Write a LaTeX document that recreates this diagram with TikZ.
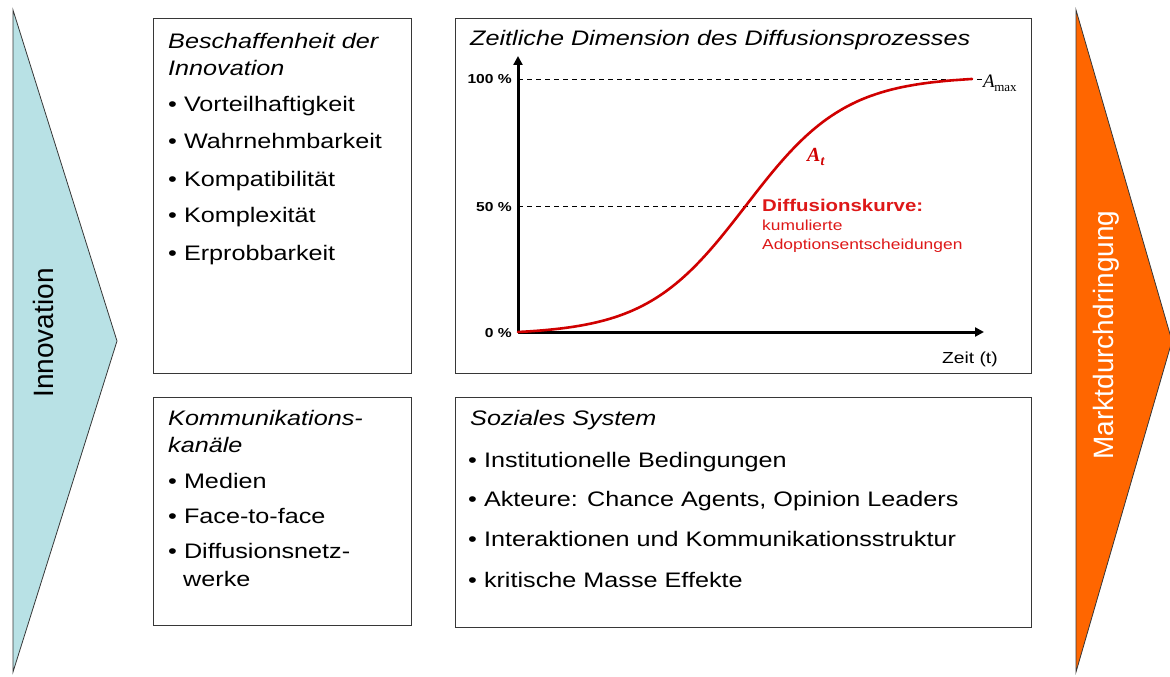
\documentclass[tikz,border=0pt]{standalone}
\usepackage{fontspec}
\setmainfont[FakeStretch=1.2]{Liberation Sans}
\newfontfamily\plainsans{Liberation Sans}
\newfontfamily\serifface{Liberation Serif}
\usetikzlibrary{arrows.meta}

\definecolor{innoblue}{RGB}{184,225,229}
\definecolor{marktorange}{RGB}{255,102,0}
\definecolor{curvered}{RGB}{208,0,0}
\definecolor{labelred}{RGB}{222,24,24}
\definecolor{frame}{RGB}{55,55,55}

\begin{document}
\begin{tikzpicture}[x=1pt,y=-1pt,
  panel/.style={draw=frame,line width=1.2pt,fill=white,inner sep=0pt},
  body/.style={anchor=base west,inner sep=0pt,font=\fontsize{21}{25}\selectfont},
  head/.style={anchor=base west,inner sep=0pt,font=\fontsize{21}{25}\selectfont\itshape},
  pct/.style={anchor=base east,inner sep=0pt,font=\fontsize{13}{14}\selectfont\bfseries},
  axis/.style={line width=3pt,-{Triangle[length=9pt,width=9pt]}},
  guide/.style={line width=0.8pt,dash pattern=on 5pt off 4pt},
  sidetext/.style={rotate=90,inner sep=0pt,font=\plainsans\fontsize{28}{30}\selectfont}
]
\useasboundingbox (0,0) rectangle (1170,677);

% side arrows
\draw[fill=innoblue,draw=frame,line width=0.8pt] (13,10) -- (117,341) -- (13,672) -- cycle;
\node[sidetext] (inno) at (43,333) {Innovation};
\draw[fill=marktorange,draw=frame,line width=0.8pt] (1076,10) -- (1172,341) -- (1076,672) -- cycle;
\node[sidetext,text=white] (markt) at (1106,335) {Marktdurchdringung};

% panels
\node[panel,anchor=north west,minimum width=258pt,minimum height=355pt] (p1) at (153,18) {};
\node[panel,anchor=north west,minimum width=576pt,minimum height=355pt] (p2) at (455,18) {};
\node[panel,anchor=north west,minimum width=258pt,minimum height=228pt] (p3) at (153,397) {};
\node[panel,anchor=north west,minimum width=576pt,minimum height=230pt] (p4) at (455,397) {};

% properties of the innovation
\node[head] (h1a) at (168,48.5) {Beschaffenheit der};
\node[head] (h1b) at (168,75.5) {Innovation};
\node[body] (b11) at (168,111.5) {•\ Vorteilhaftigkeit};
\node[body] (b12) at (168,148.5) {•\ Wahrnehmbarkeit};
\node[body] (b13) at (168,186.5) {•\ Kompatibilität};
\node[body] (b14) at (168,222.5) {•\ Komplexität};
\node[body] (b15) at (168,260.5) {•\ Erprobbarkeit};

% communication channels
\node[head] (h3a) at (168,425.5) {Kommunikations-};
\node[head] (h3b) at (168,452.5) {kanäle};
\node[body] (b31) at (168,488.5) {•\ Medien};
\node[body] (b32) at (168,523.5) {•\ Face-to-face};
\node[body] (b33) at (168,558.5) {•\ Diffusionsnetz-};
\node[body] (b34) at (183,586.5) {werke};

% social system
\node[head] (h4) at (470,425.5) {Soziales System};
\node[body] (b41) at (468,467.5) {•\ Institutionelle Bedingungen};
\node[body] (b42) at (468,506.5) {•\ Akteure: Chance Agents, Opinion Leaders};
\node[body] (b43) at (468,546.5) {•\ Interaktionen und Kommunikationsstruktur};
\node[body] (b44) at (468,587.5) {•\ kritische Masse Effekte};

% diffusion over time
\node[head] (h2) at (470,45.5) {Zeitliche Dimension des Diffusionsprozesses};

\coordinate (o) at (518,332);
\coordinate (ytip) at (518,56);
\coordinate (xtip) at (984,332);
\coordinate (full0) at (518,79);
\coordinate (full1) at (982,79);
\coordinate (half0) at (518,206);
\coordinate (half1) at (756,206);

\draw[guide] (full0) -- (full1);
\draw[guide] (half0) -- (half1);
\draw[axis] (o) -- (ytip);
\draw[axis] (o) -- (xtip);

\node[pct] (l100) at (512,84) {100 \%};
\node[pct] (l50) at (512,211) {50 \%};
\node[pct] (l0) at (512,337) {0 \%};
\node[anchor=base west,inner sep=0pt,font=\fontsize{16}{18}\selectfont] (zeit) at (942,363) {Zeit (t)};

% cumulative adoption curve
\draw[curvered,line width=2.6pt,line cap=round]
  plot[domain=518:972,samples=90,smooth]
  (\x,{332-253*((1/(1+exp(-0.02*(\x-746))))-0.01035)/0.97888});

\node[anchor=base west,inner sep=0pt,font=\serifface\fontsize{19}{20}\selectfont] (amax) at (983,88)
  {\itshape A\kern-0.5pt\raisebox{-4pt}{\upshape\fontsize{13}{13}\selectfont max}};
\node[anchor=base west,inner sep=0pt,text=curvered,font=\serifface\fontsize{20}{20}\selectfont\bfseries\itshape] (at) at (807,161)
  {A\raisebox{-4pt}{\fontsize{14}{14}\selectfont t}};

\node[anchor=base west,inner sep=0pt,text=labelred,font=\fontsize{17}{18}\selectfont\bfseries] (dk) at (762,211) {Diffusionskurve:};
\node[anchor=base west,inner sep=0pt,text=labelred,font=\fontsize{14.5}{16}\selectfont] (dk2) at (762,230.5) {kumulierte};
\node[anchor=base west,inner sep=0pt,text=labelred,font=\fontsize{14.5}{16}\selectfont] (dk3) at (762,249.5) {Adoptionsentscheidungen};
\end{tikzpicture}
\end{document}
